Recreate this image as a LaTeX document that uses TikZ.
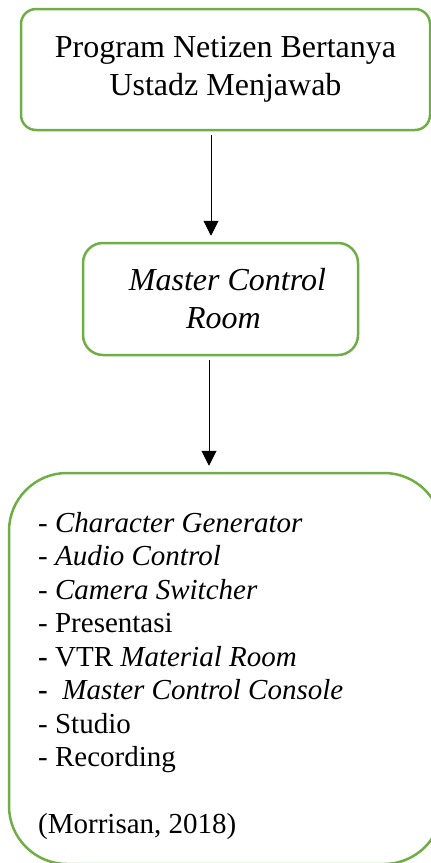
\documentclass[tikz,border=0pt]{standalone}
\usepackage{fontspec}
\setmainfont{Liberation Serif}
\usetikzlibrary{arrows.meta}
\definecolor{boxgreen}{RGB}{112,173,71}
\begin{document}
\begin{tikzpicture}[
    x=1pt, y=-1pt,
    flowbox/.style={draw=boxgreen, line width=2.5pt, rounded corners=15pt, align=center, inner sep=0pt},
    bigfont/.style={font=\fontsize{32}{38}\selectfont},
    listfont/.style={font=\fontsize{29}{33.45}\selectfont},
    flowarrow/.style={-{Triangle[width=15pt,length=15pt]}, line width=1pt, shorten <=4pt, shorten >=6pt}
]
    \useasboundingbox (0,0) rectangle (431,863);
    \clip (0,0) rectangle (431,863);

    % boxes
    \node[flowbox, bigfont, minimum width=409pt, minimum height=121pt] (program) at (225.5, 69.5)
        {Program Netizen Bertanya\\Ustadz Menjawab};
    \node[flowbox, bigfont, rounded corners=20pt, minimum width=275pt, minimum height=112pt] (mcr) at (220.5, 299)
        {\hspace*{14pt}\textit{Master Control}\\\hspace*{6pt}\textit{Room}};
    \node[flowbox, rounded corners=58pt, minimum width=433pt, minimum height=391pt] (sources) at (225.5, 668.5) {};

    % list inside the last box
    \node[listfont, anchor=north west, align=left, inner sep=0pt] (items) at (38, 512.2)
        {- \textit{Character Generator}\\
         - \textit{Audio Control}\\
         - \textit{Camera Switcher}\\
         - Presentasi\\
         \textbf{-} VTR \textit{Material Room}\\
         \textbf{-}\ \ \textit{Master Control Console}\\
         - Studio\\
         - Recording\\[33.45pt]
         (Morrisan, 2018)};

    % arrows
    \draw[flowarrow] ([xshift=-14.5pt]program.south) -- ([xshift=-9.5pt]mcr.north);
    \draw[flowarrow] ([xshift=-11.5pt]mcr.south) -- ([xshift=-16.5pt]sources.north);
\end{tikzpicture}
\end{document}
